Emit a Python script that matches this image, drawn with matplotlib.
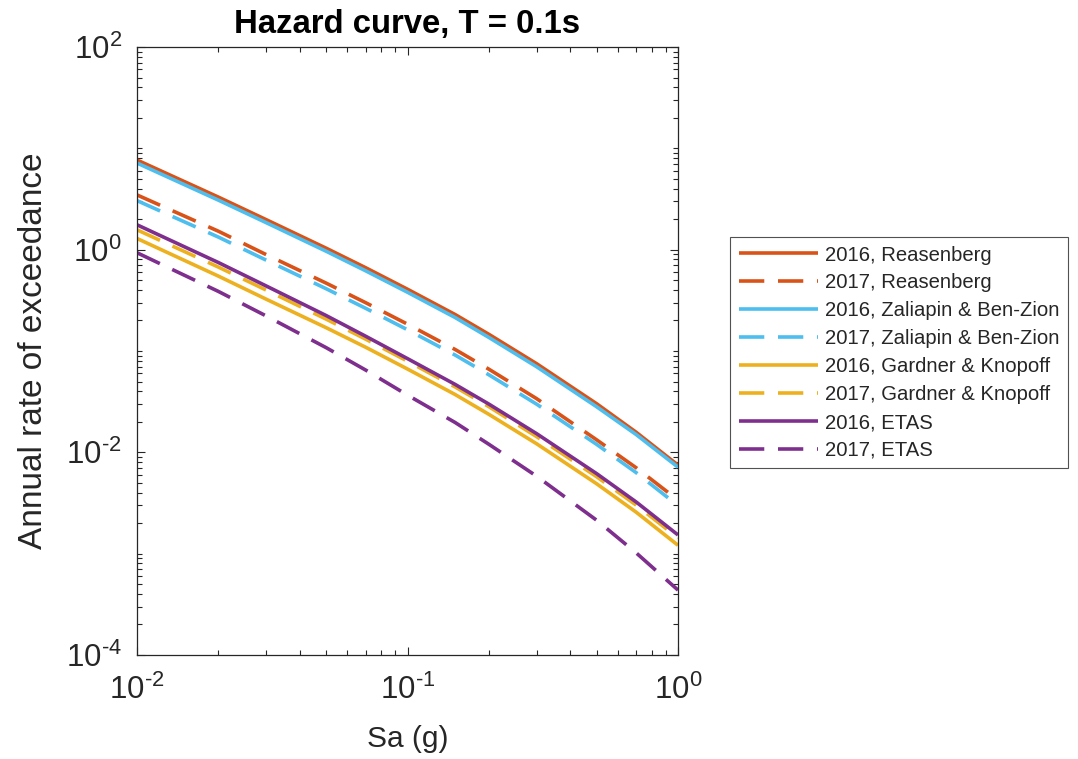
import matplotlib
matplotlib.use("Agg")
import math
import matplotlib.pyplot as plt
from matplotlib.ticker import LogLocator, FuncFormatter, NullFormatter

plt.rcParams['font.family'] = ['Liberation Sans', 'DejaVu Sans']
plt.rcParams['mathtext.fontset'] = 'custom'
plt.rcParams['mathtext.rm'] = 'Liberation Sans'
plt.rcParams['mathtext.it'] = 'Liberation Sans'
plt.rcParams['axes.unicode_minus'] = False

# Spectral acceleration sample points (g)
sa = [0.01, 0.02, 0.03, 0.05, 0.07, 0.1, 0.15, 0.2, 0.3, 0.5, 0.7, 1.0]

# Annual rate of exceedance
r2016_reas = [7.67, 3.30, 1.98, 1.035, 0.664, 0.407, 0.229, 0.146, 0.0750, 0.0302, 0.0158, 0.00748]
r2017_reas = [3.47, 1.52, 0.895, 0.468, 0.300, 0.184, 0.1035, 0.0661, 0.0339, 0.0133, 0.00705, 0.00338]
r2016_zal = [7.16, 3.08, 1.85, 0.966, 0.619, 0.380, 0.214, 0.136, 0.0700, 0.0282, 0.0150, 0.00714]
r2017_zal = [3.05, 1.33, 0.789, 0.412, 0.264, 0.162, 0.0912, 0.0582, 0.0299, 0.0120, 0.00631, 0.00298]
r2016_gk = [1.29, 0.548, 0.325, 0.170, 0.109, 0.0664, 0.0372, 0.0237, 0.01216, 0.0049, 0.00257, 0.00121]
r2017_gk = [1.57, 0.673, 0.400, 0.2065, 0.131, 0.0794, 0.0442, 0.0282, 0.0143, 0.00575, 0.00302, 0.00143]
r2016_etas = [1.76, 0.746, 0.439, 0.224, 0.140, 0.0841, 0.0468, 0.0299, 0.0153, 0.00617, 0.00324, 0.00153]
r2017_etas = [0.933, 0.387, 0.222, 0.108, 0.0649, 0.0367, 0.0197, 0.0120, 0.00582, 0.00214, 0.00102, 0.000437]

labels = ['2016, Reasenberg', '2017, Reasenberg',
          '2016, Zaliapin & Ben-Zion', '2017, Zaliapin & Ben-Zion',
          '2016, Gardner & Knopoff', '2017, Gardner & Knopoff',
          '2016, ETAS', '2017, ETAS']
series = [r2016_reas, r2017_reas, r2016_zal, r2017_zal,
          r2016_gk, r2017_gk, r2016_etas, r2017_etas]

c_or = (0.85, 0.325, 0.098)
c_bl = (0.301, 0.745, 0.933)
c_ye = (0.929, 0.694, 0.125)
c_pu = (0.494, 0.184, 0.556)
colors = [c_or, c_or, c_bl, c_bl, c_ye, c_ye, c_pu, c_pu]

fig = plt.figure(figsize=(10.78, 7.59), dpi=100)
ax = fig.add_axes([137/1078, 1-655/759, (678-137)/1078, (655-47)/759])

for i, (y, lab, col) in enumerate(zip(series, labels, colors)):
    if i % 2 == 0:
        ax.plot(sa, y, color=col, lw=2.6, label=lab, solid_capstyle='butt',
                solid_joinstyle='round')
    else:
        ax.plot(sa, y, color=col, lw=2.6, label=lab, dashes=(7, 3.8),
                dash_capstyle='butt', dash_joinstyle='round')

ax.set_xscale('log')
ax.set_yscale('log')
ax.set_xlim(1e-2, 1)
ax.set_ylim(1e-4, 1e2)


def pow_label(v, pos):
    e = int(round(math.log10(v)))
    if e < 0:
        return r'$\mathregular{10^{\text{-}%d}}$' % (-e)
    return r'$\mathregular{10^{%d}}$' % e


gray = (0.15, 0.15, 0.15)
ax.xaxis.set_major_locator(LogLocator(base=10, numticks=10))
ax.yaxis.set_major_locator(LogLocator(base=100, numticks=10))
ax.xaxis.set_minor_locator(LogLocator(base=10, subs=range(1, 10), numticks=20))
ax.yaxis.set_minor_locator(LogLocator(base=10, subs=range(1, 10), numticks=20))
ax.xaxis.set_minor_formatter(NullFormatter())
ax.yaxis.set_minor_formatter(NullFormatter())
ax.xaxis.set_major_formatter(FuncFormatter(pow_label))
ax.yaxis.set_major_formatter(FuncFormatter(pow_label))

ax.tick_params(which='both', direction='in', top=True, right=True, colors=gray,
               width=0.8)
ax.tick_params(which='major', length=6, labelsize=22.5)
ax.tick_params(axis='y', which='major', pad=11)
ax.tick_params(axis='x', which='major', pad=14)
ax.tick_params(which='minor', length=3.5)
for s in ax.spines.values():
    s.set_color(gray)
    s.set_linewidth(0.9)

ax.set_xlabel('Sa (g)', fontsize=21.5, color=gray, labelpad=14)
ax.set_ylabel('Annual rate of exceedance', fontsize=24, color=gray, labelpad=12)
ax.set_title('Hazard curve, T = 0.1s', fontsize=23.7, fontweight='bold', pad=10)

leg = ax.legend(loc='upper left', bbox_to_anchor=(730/1078, 1-237/759),
                bbox_transform=fig.transFigure, fontsize=14.6, frameon=True,
                fancybox=False, handlelength=3.9, handletextpad=0.38,
                labelspacing=0.44, borderpad=0.42, borderaxespad=0)
leg.get_frame().set_edgecolor(gray)
leg.get_frame().set_linewidth(0.8)
for t in leg.get_texts():
    t.set_color(gray)

fig.savefig('out.png', dpi=100)
